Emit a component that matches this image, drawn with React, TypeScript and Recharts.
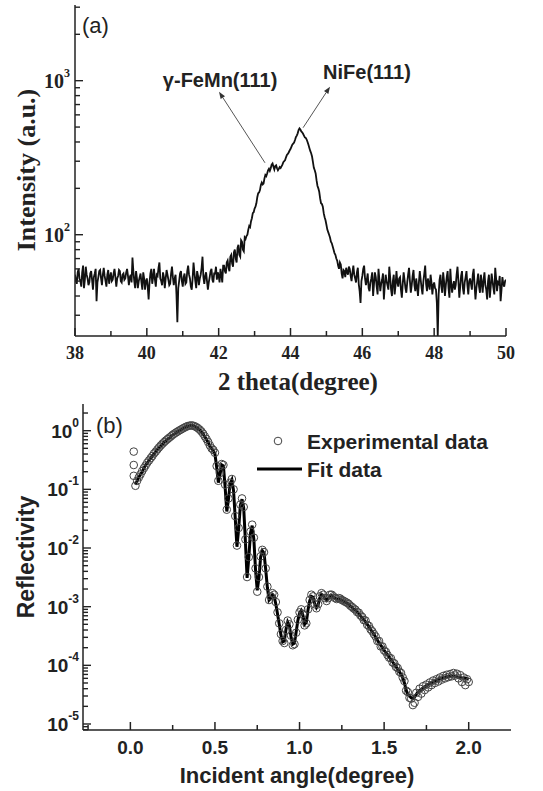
import React from 'react';
import { ComposedChart, LineChart, Line, Scatter, XAxis, YAxis, ReferenceLine, ReferenceDot } from 'recharts';

// (a) XRD scan, 2 theta from 38 to 50 in 0.025 steps (20 readings per row = 0.5 degree)
const xrdStart = 38;
const xrdStep = 0.025;
const xrdIntensity = [
  55, 50, 48, 57, 60, 52, 50, 46, 57, 63, 45, 51, 62, 55, 52, 47, 49, 56, 58, 51,
  44, 53, 56, 60, 37, 49, 53, 58, 59, 52, 47, 55, 61, 54, 50, 46, 55, 59, 48, 53,
  57, 50, 51, 56, 60, 53, 46, 52, 54, 59, 58, 50, 49, 55, 56, 51, 52, 57, 60, 54,
  47, 53, 55, 49, 71, 58, 50, 45, 58, 52, 45, 50, 53, 56, 49, 44, 57, 52, 44, 50,
  52, 46, 38, 49, 56, 60, 48, 53, 60, 51, 46, 55, 54, 61, 66, 52, 50, 47, 57, 53,
  45, 52, 59, 55, 51, 47, 48, 56, 62, 53, 47, 52, 55, 41, 27, 45, 50, 56, 58, 50,
  46, 53, 56, 48, 49, 58, 63, 55, 52, 46, 44, 52, 66, 57, 50, 45, 58, 54, 47, 52,
  55, 61, 72, 53, 48, 54, 57, 50, 44, 49, 53, 58, 60, 51, 49, 56, 56, 62, 51, 57,
  54, 49, 60, 55, 49, 63, 63, 58, 56, 66, 68, 61, 58, 72, 74, 65, 62, 77, 80, 70,
  66, 82, 86, 74, 72, 92, 90, 80, 78, 96, 94, 98, 100, 108, 114, 112, 122, 128, 138, 140,
  148, 152, 160, 175, 186, 188, 195, 210, 218, 212, 215, 232, 244, 240, 250, 262, 268, 260, 270, 285,
  290, 276, 265, 279, 282, 270, 262, 268, 275, 271, 278, 285, 296, 300, 305, 318, 330, 335, 342, 352,
  360, 372, 384, 390, 396, 412, 430, 440, 455, 478, 490, 482, 468, 462, 452, 440, 428, 425, 415, 400,
  384, 366, 350, 338, 322, 296, 272, 262, 250, 226, 208, 200, 190, 172, 160, 158, 152, 138, 130, 124,
  116, 108, 104, 100, 96, 90, 88, 84, 80, 76, 74, 70, 68, 63, 60, 66, 64, 56, 52, 59,
  58, 53, 61, 57, 55, 62, 60, 54, 50, 57, 63, 55, 52, 49, 57, 61, 48, 43, 36, 50,
  54, 60, 63, 52, 47, 51, 56, 45, 43, 49, 52, 57, 40, 48, 57, 53, 46, 41, 60, 51,
  43, 48, 51, 56, 38, 47, 55, 50, 47, 44, 62, 53, 44, 40, 50, 55, 41, 47, 58, 49,
  46, 52, 53, 44, 39, 48, 57, 51, 45, 42, 49, 55, 61, 50, 42, 47, 54, 59, 47, 43,
  52, 46, 40, 49, 58, 51, 45, 41, 50, 56, 63, 48, 43, 52, 48, 44, 55, 49, 41, 47,
  49, 45, 44, 36, 22, 41, 51, 55, 46, 42, 57, 50, 40, 47, 53, 58, 45, 39, 60, 48,
  42, 47, 50, 44, 47, 55, 62, 50, 39, 46, 54, 58, 45, 41, 49, 53, 58, 47, 41, 50,
  52, 48, 44, 55, 60, 47, 38, 45, 50, 56, 46, 42, 55, 49, 42, 51, 57, 47, 44, 38,
  50, 55, 39, 46, 56, 50, 45, 41, 61, 52, 43, 49, 48, 54, 37, 44, 53, 48, 46, 50,
  51,
];
const xrdAngleTicks = [38, 39, 40, 41, 42, 43, 44, 45, 46, 47, 48, 49, 50];
const xrdIntensityTicks = [30, 40, 50, 60, 70, 80, 90, 100, 200, 300, 400, 500, 600, 700, 800, 900, 1000, 2000, 3000];

// (b) X-ray reflectivity, incident angle from 0.02 to 2.00 in 0.01 steps
const xrrStart = 0.02;
const xrrStep = 0.01;
const xrrExperimental = [
  0.17, 0.115, 0.14, 0.16, 0.18, 0.205, 0.23, 0.255, 0.285, 0.31,
  0.34, 0.37, 0.41, 0.44, 0.48, 0.52, 0.56, 0.6, 0.64, 0.68,
  0.72, 0.76, 0.8, 0.85, 0.89, 0.93, 0.97, 1.01, 1.05, 1.09,
  1.13, 1.17, 1.2, 1.22, 1.23, 1.22, 1.19, 1.15, 1.1, 1.04,
  0.97, 0.89, 0.8, 0.72, 0.64, 0.56, 0.5, 0.47, 0.42, 0.25,
  0.14, 0.19, 0.27, 0.26, 0.12, 0.045, 0.07, 0.13, 0.15, 0.1,
  0.035, 0.011, 0.022, 0.055, 0.07, 0.05, 0.014, 0.0032, 0.007, 0.019,
  0.025, 0.015, 0.0045, 0.0018, 0.0032, 0.0072, 0.0093, 0.0085, 0.0045, 0.0022,
  0.0013, 0.0015, 0.0017, 0.0016, 0.0012, 0.0008, 0.00052, 0.00034, 0.00026, 0.00024,
  0.0004, 0.00058, 0.0005, 0.00032, 0.00022, 0.00023, 0.00036, 0.0006, 0.0008, 0.0009,
  0.00075, 0.00048, 0.00052, 0.0009, 0.0013, 0.0016, 0.0015, 0.0011, 0.00094, 0.0011,
  0.0015, 0.0017, 0.0016, 0.0014, 0.00125, 0.0014, 0.0016, 0.0016, 0.0015, 0.0014,
  0.00135, 0.0014, 0.00138, 0.0013, 0.00126, 0.00121, 0.00117, 0.00112, 0.00104, 0.00099,
  0.00093, 0.00089, 0.00081, 0.00079, 0.00071, 0.00067, 0.00059, 0.00058, 0.00049, 0.00047,
  0.00041, 0.00038, 0.00034, 0.00031, 0.00026, 0.00026, 0.00021, 0.00021, 0.00018, 0.00017,
  0.00015, 0.000135, 0.000132, 0.000112, 0.000108, 0.000094, 0.00009, 0.000078, 0.000074, 0.000062,
  0.000054, 0.000037, 0.000035, 0.000028, 0.000027, 0.000021, 0.000023, 0.000034, 0.000029, 0.00004,
  0.000033, 0.000044, 0.000038, 0.000047, 0.000042, 0.000051, 0.000046, 0.000055, 0.00005, 0.000058,
  0.000053, 0.000062, 0.000057, 0.000066, 0.00006, 0.000069, 0.000063, 0.000071, 0.000065, 0.000074,
  0.000067, 0.000072, 0.00006, 0.000068, 0.000052, 0.000062, 0.000046, 0.000058, 0.000052,
];
const xrrFit = [
  null, 0.12, 0.14, 0.16, 0.18, 0.2, 0.23, 0.26, 0.28, 0.31,
  0.34, 0.37, 0.4, 0.44, 0.48, 0.51, 0.55, 0.59, 0.63, 0.67,
  0.71, 0.75, 0.8, 0.84, 0.88, 0.92, 0.96, 1.0, 1.04, 1.08,
  1.12, 1.16, 1.19, 1.21, 1.22, 1.21, 1.18, 1.14, 1.09, 1.03,
  0.96, 0.88, 0.79, 0.71, 0.63, 0.55, 0.5, 0.46, 0.4, 0.24,
  0.13, 0.18, 0.26, 0.25, 0.11, 0.042, 0.068, 0.125, 0.145, 0.095,
  0.032, 0.0105, 0.021, 0.053, 0.068, 0.048, 0.013, 0.0031, 0.0068, 0.018,
  0.024, 0.014, 0.0042, 0.0019, 0.0031, 0.007, 0.009, 0.0082, 0.0043, 0.0021,
  0.0013, 0.0014, 0.0016, 0.0015, 0.0011, 0.00075, 0.0005, 0.00033, 0.00025, 0.00026,
  0.00041, 0.00055, 0.00048, 0.0003, 0.00023, 0.00024, 0.00037, 0.00058, 0.00078, 0.00086,
  0.00072, 0.0005, 0.00054, 0.00088, 0.00125, 0.0015, 0.00145, 0.00112, 0.00096, 0.00108,
  0.00142, 0.00162, 0.00155, 0.00138, 0.00128, 0.00138, 0.00152, 0.00154, 0.00146, 0.00138,
  0.00134, 0.00136, 0.00134, 0.00128, 0.00123, 0.00119, 0.00115, 0.00109, 0.00103, 0.00097,
  0.00092, 0.00087, 0.00081, 0.00076, 0.0007, 0.00065, 0.0006, 0.00055, 0.0005, 0.00046,
  0.00041, 0.00037, 0.00034, 0.0003, 0.00027, 0.00024, 0.00022, 0.0002, 0.00018, 0.000165,
  0.00015, 0.00014, 0.000125, 0.000115, 0.000104, 0.000095, 0.000086, 0.000078, 0.00007, 0.000062,
  0.00005, 0.000038, 0.000032, 0.00003, 0.000028, 0.000027, 0.000029, 0.000032, 0.000035, 0.000037,
  0.000039, 0.000041, 0.000043, 0.000045, 0.000047, 0.000049, 0.00005, 0.000052, 0.000054, 0.000055,
  0.000057, 0.000059, 0.00006, 0.000062, 0.000063, 0.000064, 0.000065, 0.000066, 0.000066, 0.000066,
  0.000065, 0.000064, 0.000063, 0.000062, 0.000061, 0.00006, 0.00006, 0.000059, 0.000058,
];
// the first few scattered points stacked at the start of the scan
const xrrEarlyAngles = [0.02, 0.02];
const xrrEarlyValues = [0.44, 0.26];

const xrrAngleTicks = [-0.25, 0, 0.25, 0.5, 0.75, 1, 1.25, 1.5, 1.75, 2];
const xrrDecades = [1e-6, 1e-5, 1e-4, 1e-3, 1e-2, 1e-1, 1];
const xrrMultipliers = [1, 2, 3, 4, 5, 6, 7, 8, 9];

const xrdRows = xrdIntensity.map((v, i) => ({ angle: +(xrdStart + i * xrdStep).toFixed(3), intensity: v }));
const xrrRows = xrrExperimental.map((v, i) => ({ angle: +(xrrStart + i * xrrStep).toFixed(2), exp: v, fit: xrrFit[i] }));
const xrrEarlyRows = xrrEarlyAngles.map((a, i) => ({ angle: a, exp: xrrEarlyValues[i] }));

const xrrDomain: [number, number] = [7.9e-6, 2.85];
const xrrReflectivityTicks = xrrDecades
  .flatMap((d) => xrrMultipliers.map((m) => +(d * m).toPrecision(3)))
  .filter((v) => v >= xrrDomain[0] && v <= xrrDomain[1]);

const ink = '#222';
const serif = '"Liberation Serif", "Times New Roman", serif';
const sans = '"Liberation Sans", Arial, sans-serif';

const isDecade = (v: number) => Math.abs(Math.log10(v) - Math.round(Math.log10(v))) < 1e-6;
const isHalf = (v: number) => Math.abs(v * 2 - Math.round(v * 2)) < 1e-6;

const makeXTick = (o: { dir: number; major: (v: number) => boolean; label?: (v: number) => string; font: string; size: number }) =>
  (props: any) => {
    const { x, y, payload } = props;
    const v = payload.value;
    const major = o.major(v);
    return (
      <g>
        <line x1={x} x2={x} y1={y} y2={y + o.dir * (major ? 8 : 5)} stroke={ink} strokeWidth={1.5} />
        {major && o.label && (
          <text x={x} y={y + 17} textAnchor="middle" dominantBaseline="central" fontFamily={o.font} fontWeight="bold" fontSize={o.size} fill={ink}>
            {o.label(v)}
          </text>
        )}
      </g>
    );
  };

const makeLogTick = (o: { dir: number; showLabel: boolean; font: string; size: number; sup: number; gap: number }) =>
  (props: any) => {
    const { x, y, payload } = props;
    const v = payload.value;
    const major = isDecade(v);
    return (
      <g>
        <line x1={x} x2={x + o.dir * (major ? 8 : 5)} y1={y} y2={y} stroke={ink} strokeWidth={1.4} />
        {major && o.showLabel && (
          <text x={x - o.gap} y={y} textAnchor="end" dominantBaseline="central" fontFamily={o.font} fontWeight="bold" fontSize={o.size} fill={ink}>
            <tspan>10</tspan>
            <tspan dy={-8} fontSize={o.sup}>{Math.round(Math.log10(v))}</tspan>
          </text>
        )}
      </g>
    );
  };

const Arrow = (p: any) => {
  const { x1, y1, x2, y2 } = p;
  const a = Math.atan2(y2 - y1, x2 - x1);
  const L = 7;
  const W = 2.6;
  const bx = x2 - L * Math.cos(a);
  const by = y2 - L * Math.sin(a);
  const pts = `${x2},${y2} ${bx - W * Math.sin(a)},${by + W * Math.cos(a)} ${bx + W * Math.sin(a)},${by - W * Math.cos(a)}`;
  return (
    <g>
      <line x1={x1} y1={y1} x2={bx} y2={by} stroke="#555" strokeWidth={1} />
      <polygon points={pts} fill="#333" />
    </g>
  );
};

const peakLabel = (text: string) => (p: any) => (
  <text x={p.cx} y={p.cy} textAnchor="middle" dominantBaseline="central" fontFamily={sans} fontWeight="bold" fontSize={20} fill={ink}>
    {text}
  </text>
);

const Circle = (p: any) => <circle cx={p.cx} cy={p.cy} r={3.8} fill="none" stroke="#444" strokeWidth={1} />;

export default function App() {
  const axisLine = { stroke: ink, strokeWidth: 1.5 };
  return (
    <div style={{ position: 'absolute', left: 0, top: 0, width: 543, height: 791, background: '#fff' }}>
      <LineChart width={543} height={400} data={xrdRows} margin={{ top: 5, right: 37, left: 0, bottom: 0 }}>
        <XAxis
          dataKey="angle" type="number" domain={[38, 50]} allowDataOverflow ticks={xrdAngleTicks} interval={0}
          height={64} tickSize={0} tickMargin={0} tickLine={false} axisLine={axisLine}
          tick={makeXTick({ dir: -1, major: (v) => v % 2 === 0, label: (v) => String(v), font: serif, size: 18 })}
        />
        <XAxis xAxisId="top" orientation="top" type="number" domain={[38, 50]} height={0} tick={false} tickLine={false} axisLine={axisLine} />
        <YAxis
          scale="log" type="number" domain={[22, 3100]} allowDataOverflow ticks={xrdIntensityTicks} interval={0}
          width={75} tickSize={0} tickMargin={0} tickLine={false} axisLine={axisLine}
          tick={makeLogTick({ dir: 1, showLabel: true, font: serif, size: 20, sup: 12, gap: 5 })}
        />
        <YAxis yAxisId="right" orientation="right" type="number" domain={[0, 1]} width={0} tick={false} tickLine={false} axisLine={axisLine} />
        <Line dataKey="intensity" type="linear" stroke="#111" strokeWidth={1.8} dot={false} isAnimationActive={false} />
        <ReferenceLine segment={[{ x: 43.29, y: 293 }, { x: 42.01, y: 848 }]} shape={Arrow} />
        <ReferenceLine segment={[{ x: 44.35, y: 495 }, { x: 45.1, y: 914 }]} shape={Arrow} />
        <ReferenceDot x={42.04} y={1014} r={0} shape={peakLabel('γ-FeMn(111)')} />
        <ReferenceDot x={46.13} y={1143} r={0} shape={peakLabel('NiFe(111)')} />
      </LineChart>

      <div style={{ position: 'absolute', left: 0, top: 400 }}>
        <ComposedChart width={543} height={391} data={xrrRows} margin={{ top: 4, right: 32, left: 0, bottom: 0 }}>
          <XAxis
            dataKey="angle" type="number" domain={[-0.28, 2.25]} allowDataOverflow ticks={xrrAngleTicks} interval={0}
            height={61} tickSize={0} tickMargin={0} tickLine={false} axisLine={axisLine}
            tick={makeXTick({ dir: -1, major: isHalf, label: (v) => v.toFixed(1), font: sans, size: 19 })}
          />
          <XAxis
            xAxisId="top" orientation="top" type="number" domain={[-0.28, 2.25]} allowDataOverflow ticks={xrrAngleTicks} interval={0}
            height={0} tickSize={0} tickMargin={0} tickLine={false} axisLine={axisLine}
            tick={makeXTick({ dir: 1, major: isHalf, font: sans, size: 19 })}
          />
          <YAxis
            scale="log" type="number" domain={xrrDomain} allowDataOverflow ticks={xrrReflectivityTicks} interval={0}
            width={83} tickSize={0} tickMargin={0} tickLine={false} axisLine={axisLine}
            tick={makeLogTick({ dir: 1, showLabel: true, font: sans, size: 19, sup: 12, gap: 4 })}
          />
          <YAxis
            yAxisId="right" orientation="right" scale="log" type="number" domain={xrrDomain} allowDataOverflow ticks={xrrReflectivityTicks} interval={0}
            width={0} tickSize={0} tickMargin={0} tickLine={false} axisLine={axisLine}
            tick={makeLogTick({ dir: -1, showLabel: false, font: sans, size: 19, sup: 12, gap: 4 })}
          />
          <Scatter dataKey="exp" shape={Circle} isAnimationActive={false} />
          <Scatter data={xrrEarlyRows} dataKey="exp" shape={Circle} isAnimationActive={false} />
          <Line dataKey="fit" type="linear" stroke="#000" strokeWidth={3} dot={false} connectNulls={false} isAnimationActive={false} />
        </ComposedChart>
      </div>

      <svg width={543} height={791} style={{ position: 'absolute', left: 0, top: 0, pointerEvents: 'none' }}>
        <text x={82} y={25} dominantBaseline="central" fontFamily={sans} fontSize={22} fill={ink}>(a)</text>
        <text x={26} y={170} transform="rotate(-90 26 170)" textAnchor="middle" dominantBaseline="central" fontFamily={serif} fontWeight="bold" fontSize={26} fill={ink}>
          Intensity (a.u.)
        </text>
        <text x={298} y={381} textAnchor="middle" dominantBaseline="central" fontFamily={serif} fontWeight="bold" fontSize={25} fill={ink}>
          2 theta(degree)
        </text>

        <text x={96} y={425} dominantBaseline="central" fontFamily={sans} fontSize={22} fill={ink}>(b)</text>
        <text x={26} y={557} transform="rotate(-90 26 557)" textAnchor="middle" dominantBaseline="central" fontFamily={sans} fontWeight="bold" fontSize={23} fill={ink}>
          Reflectivity
        </text>
        <text x={297} y={775} textAnchor="middle" dominantBaseline="central" fontFamily={sans} fontWeight="bold" fontSize={22} fill={ink}>
          Incident angle(degree)
        </text>

        <circle cx={278} cy={441} r={3.8} fill="none" stroke="#444" strokeWidth={1} />
        <text x={307} y={441} dominantBaseline="central" fontFamily={sans} fontWeight="bold" fontSize={21} fill={ink}>Experimental data</text>
        <line x1={257} x2={302} y1={469} y2={469} stroke="#000" strokeWidth={3} />
        <text x={307} y={469} dominantBaseline="central" fontFamily={sans} fontWeight="bold" fontSize={21} fill={ink}>Fit data</text>
      </svg>
    </div>
  );
}
